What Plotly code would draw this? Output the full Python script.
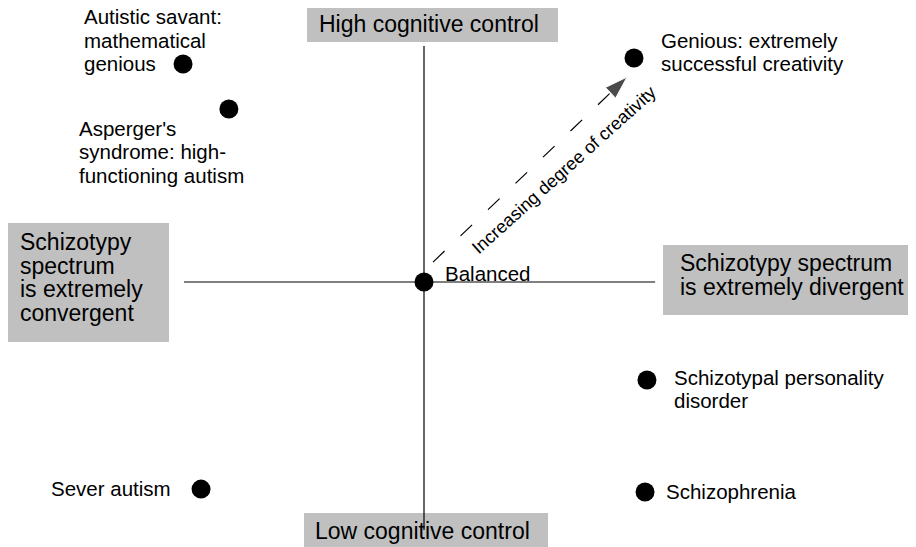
import plotly.graph_objects as go

# ---- data (coordinates in chart units; origin = "Balanced") ----
point_names = ["Autistic savant: mathematical genious",
               "Asperger's syndrome: high-functioning autism",
               "Balanced",
               "Genious: extremely successful creativity",
               "Schizotypal personality disorder",
               "Schizophrenia",
               "Sever autism"]
point_x = [-10.04, -8.13, 0.0, 8.75, 9.29, 9.21, -9.29]
point_y = [9.08, 7.21, 0.0, 9.33, -4.08, -8.75, -8.63]

# label lines for each point
label_lines = [["Autistic savant:", "mathematical", "genious"],
               ["Asperger's", "syndrome: high-", "functioning autism"],
               ["Balanced"],
               ["Genious: extremely", "successful creativity"],
               ["Schizotypal personality", "disorder"],
               ["Schizophrenia"],
               ["Sever autism"]]

axis_x = [-10.0, 9.63]          # convergent <-> divergent axis extent
axis_y = [-10.33, 9.83]         # low <-> high cognitive control axis extent
arrow_x = [0.375, 8.46]
arrow_y = [0.83, 8.54]
arrow_text = "Increasing degree of creativity"

box_labels = [["High cognitive control"],
              ["Low cognitive control"],
              ["Schizotypy", "spectrum", "is extremely", "convergent"],
              ["Schizotypy spectrum", "is extremely divergent"]]

# ---- layout helpers (page pixel -> chart units) ----
S = 24.0
OX, OY = 424.0, 282.0
def fx(px): return (px - OX) / S
def fy(py): return (OY - py) / S

PAGE_OFF = 8  # default body margin of the page
FONT = "Liberation Sans, Arial, sans-serif"
SMALL = 20.5
BIG = 23
LINE = 23.5

fig = go.Figure()

# axes lines
fig.add_trace(go.Scatter(x=axis_x, y=[0, 0], mode="lines",
                         line=dict(color="black", width=1.2), hoverinfo="skip"))
fig.add_trace(go.Scatter(x=[0, 0], y=axis_y, mode="lines",
                         line=dict(color="black", width=1.2), hoverinfo="skip"))

# dashed arrow
fig.add_trace(go.Scatter(x=arrow_x, y=arrow_y, mode="lines+markers",
                         line=dict(color="black", width=1.2, dash="16px,22px"),
                         marker=dict(symbol=["circle", "arrow"], size=[0, 24],
                                     angleref="previous", color="black"),
                         hoverinfo="skip"))

# points
fig.add_trace(go.Scatter(x=point_x, y=point_y, mode="markers",
                         marker=dict(size=19, color="black"),
                         text=point_names, hoverinfo="text"))

# gray boxes (pixel rectangles)
box_rects = [(307, 6, 558, 42), (304, 513, 548, 560), (8, 223, 169, 342), (663, 245, 913, 315)]
box_text_pos = [(317, 24), (313, 531), (18, 242), (678, 263)]
for (x0, y0, x1, y1) in box_rects:
    fig.add_shape(type="rect", xref="x", yref="y", x0=fx(x0), x1=fx(x1), y0=fy(y0), y1=fy(y1),
                  fillcolor="#c0c0c0", line=dict(width=0), layer="below")

annotations = []
for lines, (tx, ty) in zip(box_labels, box_text_pos):
    for i, ln in enumerate(lines):
        annotations.append(dict(x=fx(tx), y=fy(ty + i * LINE), xref="x", yref="y",
                                text=ln, showarrow=False, xanchor="left", yanchor="middle",
                                font=dict(size=BIG, color="black", family=FONT)))

# point labels (pixel anchor of first line, anchor side)
label_pos = [(82, 16.5, "left"), (77, 128, "left"), (443, 273, "left"), (659, 40, "left"),
             (672, 377, "left"), (664, 491, "left"), (173, 488, "right")]
for lines, (tx, ty, anc) in zip(label_lines, label_pos):
    for i, ln in enumerate(lines):
        annotations.append(dict(x=fx(tx), y=fy(ty + i * LINE), xref="x", yref="y",
                                text=ln, showarrow=False, xanchor=anc, yanchor="middle",
                                font=dict(size=SMALL, color="black", family=FONT)))

# arrow text
annotations.append(dict(x=fx(564), y=fy(170), xref="x", yref="y", text=arrow_text,
                        showarrow=False, textangle=-42, xanchor="center", yanchor="middle",
                        font=dict(size=18, color="black", family=FONT)))

fig.update_layout(
    width=916 - PAGE_OFF, height=547 - PAGE_OFF,
    margin=dict(l=0, r=0, t=0, b=0),
    paper_bgcolor="white", plot_bgcolor="white",
    showlegend=False,
    xaxis=dict(range=[fx(PAGE_OFF), fx(916)], visible=False, fixedrange=True),
    yaxis=dict(range=[fy(547), fy(PAGE_OFF)], visible=False, fixedrange=True),
    annotations=annotations,
)

fig.write_html("out.html")
